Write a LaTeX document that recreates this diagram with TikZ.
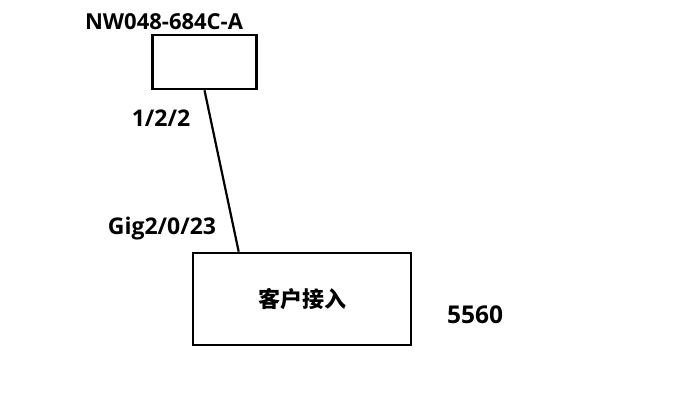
\documentclass[tikz,border=0pt]{standalone}
\usepackage{fontspec}
\setmainfont{Open Sans}
\newfontfamily\cjk{Noto Sans CJK SC}
\tikzset{
  devbox/.style={draw,line width=2.6pt,inner sep=0pt},
  portlbl/.style={font=\bfseries\fontsize{23}{26}\selectfont,inner sep=0pt}
}
\begin{document}
\begin{tikzpicture}[x=1pt,y=-1pt]
  \useasboundingbox (0,0) rectangle (697,411);
  \node[devbox,minimum width=104pt,minimum height=54pt] (nw) at (204.5,62) {};
  \node[devbox,minimum width=218pt,minimum height=92pt] (cust) at (302,299)
    {\cjk\bfseries\fontsize{22}{26}\selectfont 客户接入};
  \draw[line width=2.2pt] (nw.south) -- ([xshift=47pt]cust.north west);
  \node[portlbl,font=\bfseries\fontsize{22}{26}\selectfont] (nwname) at (164,22) {NW048-684C-A};
  \node[portlbl] (p1) at (161,118) {1/2/2};
  \node[portlbl] (p2) at (162,229) {Gig2/0/23};
  \node[portlbl,font=\bfseries\fontsize{24.5}{28}\selectfont] (model) at (475,315) {5560};
\end{tikzpicture}
\end{document}
